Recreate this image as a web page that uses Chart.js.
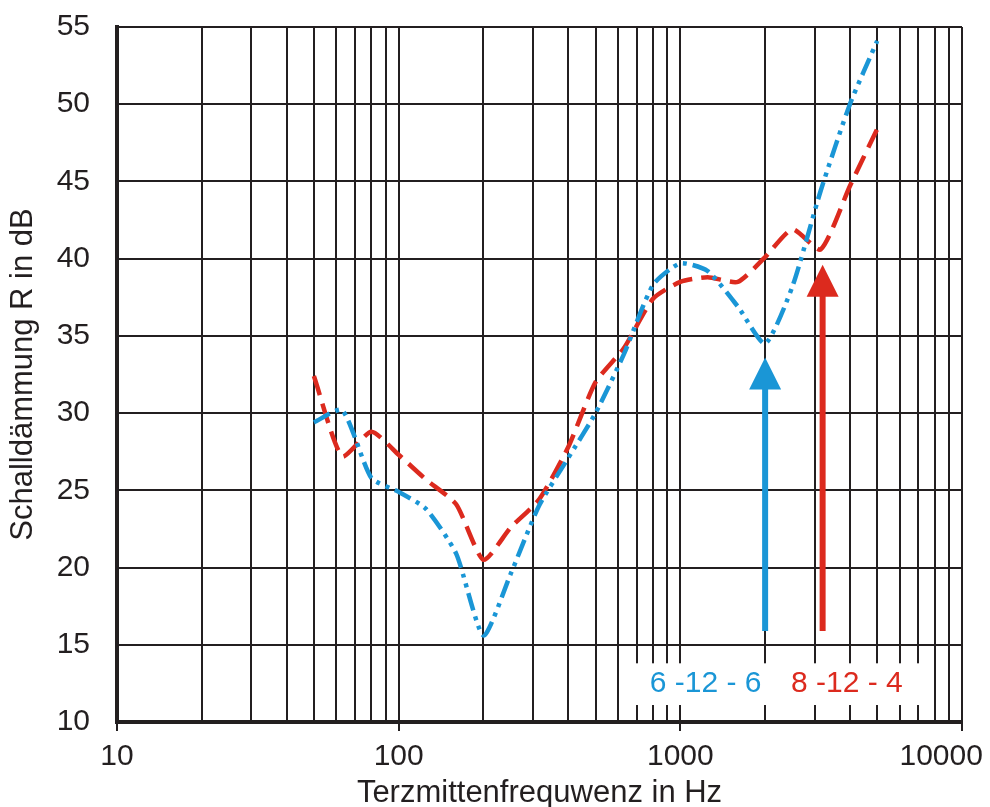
<!DOCTYPE html>
<html>
<head>
<meta charset="utf-8">
<script src="https://cdn.jsdelivr.net/npm/chart.js@4/dist/chart.umd.min.js"></script>
<style>
  html, body { margin: 0; padding: 0; background: #ffffff; }
  #wrap { width: 990px; height: 807px; }
</style>
</head>
<body>
<div id="wrap"><canvas id="c" width="990" height="807"></canvas></div>
<script>
// ---- data ----
const frequencies = [50, 63, 80, 100, 125, 160, 200, 250, 315, 400, 500, 630, 800, 1000, 1250, 1600, 2000, 2500, 3150, 4000, 5000];
const seriesRed  = [32.4, 27.2, 28.8, 27.3, 25.7, 24.1, 20.5, 22.6, 24.4, 27.8, 32.0, 34.2, 37.4, 38.5, 38.8, 38.5, 40.1, 41.9, 40.6, 44.7, 48.4];
const seriesBlue = [29.4, 30.2, 25.8, 24.9, 23.8, 20.9, 15.6, 19.6, 24.0, 27.1, 30.0, 33.8, 38.3, 39.7, 39.2, 36.9, 34.5, 38.2, 44.4, 50.0, 54.1];
const seriesNames = ['6 -12 - 6', '8 -12 - 4'];
const xTickLabels = [10, 100, 1000, 10000];
const yTickValues = [10, 15, 20, 25, 30, 35, 40, 45, 50, 55];
const arrowFreq = [2000, 3200];
const arrowBase = [15.9, 15.9];
const arrowTip  = [33.6, 39.6];
const labelFreq = [1230, 3900];
const labelLevel = [12.5, 12.5];
const labelBoxFreq = [680, 7400];
const labelBoxLevel = [11.1, 13.8];

const BLUE = '#1a96d6';
const RED = '#dc2a1e';
const INK = '#231f20';
const FONT = "'Liberation Sans', Arial, sans-serif";

const toPoints = (ys) => frequencies.map((f, i) => ({ x: f, y: ys[i] }));

const annotations = {
  id: 'annotations',
  beforeDatasetsDraw(chart) {
    const { ctx, scales: { x, y } } = chart;
    ctx.save();
    const x0 = x.getPixelForValue(labelBoxFreq[0]);
    const x1 = x.getPixelForValue(labelBoxFreq[1]);
    const y0 = y.getPixelForValue(labelBoxLevel[1]);
    const y1 = y.getPixelForValue(labelBoxLevel[0]);
    ctx.fillStyle = '#ffffff';
    ctx.fillRect(x0, y0, x1 - x0, y1 - y0);
    ctx.font = '30px ' + FONT;
    ctx.textAlign = 'center';
    ctx.textBaseline = 'middle';
    const cols = [BLUE, RED];
    seriesNames.forEach((name, i) => {
      ctx.fillStyle = cols[i];
      ctx.fillText(name, x.getPixelForValue(labelFreq[i]), y.getPixelForValue(labelLevel[i]));
    });
    ctx.restore();
  },
  afterDatasetsDraw(chart) {
    const { ctx, scales: { x, y } } = chart;
    const cols = [BLUE, RED];
    ctx.save();
    arrowFreq.forEach((f, i) => {
      const px = x.getPixelForValue(f);
      const pb = y.getPixelForValue(arrowBase[i]);
      const pt = y.getPixelForValue(arrowTip[i]);
      const headLen = 32, headHalf = 16;
      ctx.strokeStyle = cols[i];
      ctx.fillStyle = cols[i];
      ctx.lineWidth = 6;
      ctx.lineCap = 'butt';
      ctx.beginPath();
      ctx.moveTo(px, pb);
      ctx.lineTo(px, pt + headLen - 2);
      ctx.stroke();
      ctx.beginPath();
      ctx.moveTo(px, pt);
      ctx.lineTo(px - headHalf, pt + headLen);
      ctx.lineTo(px + headHalf, pt + headLen);
      ctx.closePath();
      ctx.fill();
    });
    ctx.restore();
  }
};

const isDecade = (v) => Math.abs(Math.log10(v) - Math.round(Math.log10(v))) < 1e-6;

new Chart(document.getElementById('c'), {
  type: 'line',
  data: {
    datasets: [
      {
        label: seriesNames[0],
        data: toPoints(seriesBlue),
        borderColor: BLUE,
        borderWidth: 4.5,
        borderDash: [18, 6, 4, 6, 4, 6],
        borderCapStyle: 'butt',
        pointRadius: 0,
        tension: 0.2,
        fill: false
      },
      {
        label: seriesNames[1],
        data: toPoints(seriesRed),
        borderColor: RED,
        borderWidth: 4.5,
        borderDash: [20, 9],
        borderCapStyle: 'butt',
        pointRadius: 0,
        tension: 0.2,
        fill: false
      }
    ]
  },
  options: {
    responsive: false,
    animation: false,
    devicePixelRatio: 1,
    layout: { padding: { top: 27, right: 28, left: 0, bottom: 0 } },
    plugins: { legend: { display: false }, tooltip: { enabled: false } },
    scales: {
      x: {
        type: 'logarithmic',
        position: 'bottom',
        min: 10,
        max: 10000,
        afterFit(scale) { scale.height = 85; scale.paddingLeft = 0; scale.paddingRight = 0; },
        afterBuildTicks(scale) {
          const t = [];
          for (let d = 10; d < 10000; d *= 10) {
            for (let k = 1; k < 10; k++) t.push({ value: d * k });
          }
          t.push({ value: 10000 });
          scale.ticks = t;
        },
        ticks: {
          autoSkip: false,
          maxRotation: 0,
          minRotation: 0,
          padding: 8,
          color: INK,
          font: { family: FONT, size: 30 },
          callback: (v) => {
            const r = Math.round(v);
            if (!(isDecade(v) && xTickLabels.includes(r))) return '';
            // last label is kept inside the page, as in the reference
            return r === xTickLabels[xTickLabels.length - 1] ? String(r) + '     ' : String(r);
          }
        },
        grid: {
          color: INK,
          lineWidth: 2,
          drawTicks: true,
          tickLength: 9,
          tickWidth: 2,
          tickColor: (c) => (c.tick && isDecade(c.tick.value)) ? INK : 'rgba(0,0,0,0)'
        },
        border: { display: true, color: INK, width: 4 },
        title: {
          display: true,
          text: 'Terzmittenfrequwenz in Hz',
          color: INK,
          font: { family: FONT, size: 31, lineHeight: 0.9 },
          padding: { top: 0, bottom: 0 }
        }
      },
      y: {
        type: 'linear',
        position: 'left',
        min: 10,
        max: 55,
        afterFit(scale) { scale.width = 117; scale.paddingTop = 0; scale.paddingBottom = 0; },
        afterBuildTicks(scale) { scale.ticks = yTickValues.map(v => ({ value: v })); },
        ticks: {
          padding: 27,
          color: INK,
          font: { family: FONT, size: 30 }
        },
        grid: { color: INK, lineWidth: 2, drawTicks: false },
        border: { display: true, color: INK, width: 4 },
        title: {
          display: true,
          text: 'Schalldämmung R in dB',
          color: INK,
          font: { family: FONT, size: 31, lineHeight: 1 },
          padding: { top: 8, bottom: 0 }
        }
      }
    }
  },
  plugins: [annotations]
});
</script>
</body>
</html>
